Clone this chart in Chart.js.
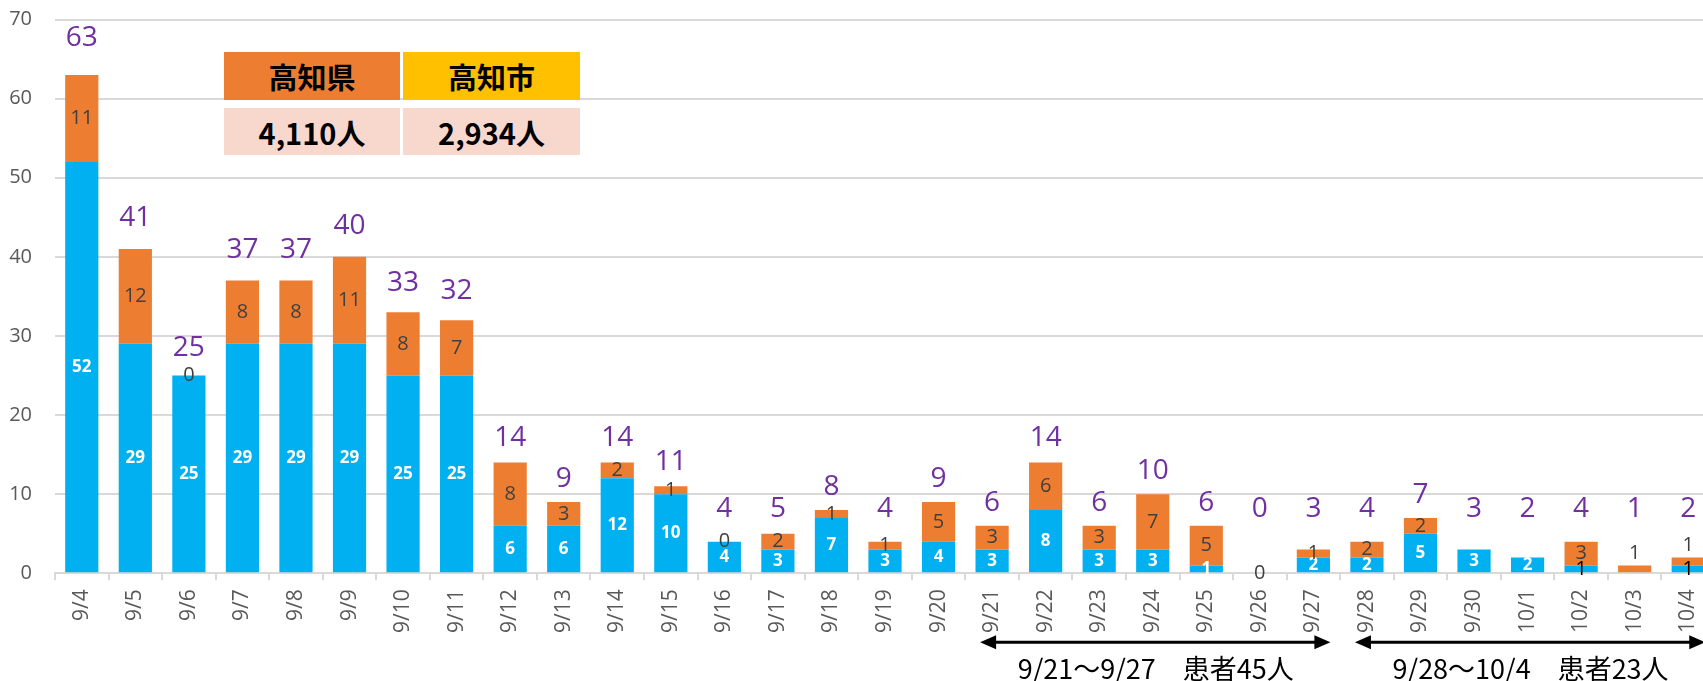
<!DOCTYPE html>
<html lang="ja">
<head>
<meta charset="UTF-8">
<title>高知県 新規陽性者数</title>
<script src="https://cdn.jsdelivr.net/npm/chart.js"></script>
<style>
  html, body { margin: 0; padding: 0; background: #fff; overflow: hidden; }
  #wrap { position: relative; width: 1730px; height: 681px; }
  .cell {
    position: absolute; display: flex; align-items: center; justify-content: center;
    font-family: "Noto Sans CJK JP"; font-weight: bold; font-size: 29px; color: #000;
  }
</style>
</head>
<body>
<div id="wrap">
  <canvas id="chart" width="1730" height="681"></canvas>
  <div class="cell" id="h0" style="left:224px;top:52px;width:176px;height:48px;background:#ed7d31"></div>
  <div class="cell" id="h1" style="left:403px;top:52px;width:177px;height:48px;background:#ffc000"></div>
  <div class="cell" id="v0" style="left:224px;top:108px;width:176px;height:47px;background:#f8d7cd"></div>
  <div class="cell" id="v1" style="left:403px;top:108px;width:177px;height:47px;background:#f8d7cd"></div>
</div>
<script>
// 日付
const dates = ['9/4','9/5','9/6','9/7','9/8','9/9','9/10','9/11','9/12','9/13','9/14','9/15','9/16','9/17',
  '9/18','9/19','9/20','9/21','9/22','9/23','9/24','9/25','9/26','9/27','9/28','9/29','9/30','10/1','10/2','10/3','10/4'];
// 高知市 (青)
const cityCases = [52,29,25,29,29,29,25,25,6,6,12,10,4,3,7,3,4,3,8,3,3,1,null,2,2,5,3,2,1,null,1];
// 高知市以外 (オレンジ)
const otherCases = [11,12,0,8,8,11,8,7,8,3,2,1,0,2,1,1,5,3,6,3,7,5,0,1,2,2,null,null,3,1,1];
// 合計
const totals = [63,41,25,37,37,40,33,32,14,9,14,11,4,5,8,4,9,6,14,6,10,6,0,3,4,7,3,2,4,1,2];

// 累計の表
const summaryHeaders = ['高知県','高知市'];
const summaryValues = ['4,110人','2,934人'];

// 週ごとの矢印
const weekStart = ['9/21','9/28'];
const weekEnd = ['9/27','10/4'];
const weekText = ['9/21〜9/27　患者45人','9/28〜10/4　患者23人'];

summaryHeaders.forEach((h, i) => document.getElementById('h' + i).textContent = h);
summaryValues.forEach((v, i) => document.getElementById('v' + i).textContent = v);

const darkCityLabels = ['10/2','10/4'];
const raisedOtherLabels = ['10/3','10/4'];

const labelPlugin = {
  id: 'barLabels',
  afterDatasetsDraw(chart) {
    const ctx = chart.ctx;
    const y = chart.scales.y;
    const metaCity = chart.getDatasetMeta(0);
    const metaOther = chart.getDatasetMeta(1);
    ctx.save();
    ctx.textAlign = 'center';
    ctx.textBaseline = 'middle';
    dates.forEach((d, i) => {
      const c = cityCases[i];
      if (c !== null) {
        const bar = metaCity.data[i];
        if (darkCityLabels.includes(d)) {
          ctx.font = '20px "Open Sans"';
          ctx.fillStyle = '#000';
        } else {
          ctx.font = 'bold 17px "Open Sans"';
          ctx.fillStyle = '#fff';
        }
        ctx.fillText(String(c), bar.x, (bar.y + bar.base) / 2);
      }
      const o = otherCases[i];
      if (o !== null) {
        const bar = metaOther.data[i];
        let oy = (bar.y + bar.base) / 2;
        if (raisedOtherLabels.includes(d)) oy = bar.y - 12;
        ctx.font = '20px "Open Sans"';
        ctx.fillStyle = '#404040';
        ctx.fillText(String(o), bar.x, oy);
      }
      const t = totals[i];
      const ty = Math.min(y.getPixelForValue(t * 1.032), y.getPixelForValue(5.5)) - 21;
      ctx.font = '28px "Open Sans"';
      ctx.fillStyle = '#7030a0';
      ctx.fillText(String(t), metaCity.data[i].x, ty);
    });
    ctx.restore();
  }
};

const arrowPlugin = {
  id: 'weekArrows',
  afterDraw(chart) {
    const ctx = chart.ctx;
    const x = chart.scales.x;
    const bottom = chart.chartArea.bottom;
    const ay = bottom + 69;
    ctx.save();
    weekText.forEach((txt, k) => {
      const a = x.getPixelForValue(dates.indexOf(weekStart[k]));
      const b = x.getPixelForValue(dates.indexOf(weekEnd[k]));
      const left = a - 12, right = b + 17;
      ctx.strokeStyle = '#000';
      ctx.fillStyle = '#000';
      ctx.lineWidth = 3;
      ctx.beginPath();
      ctx.moveTo(left + 10, ay);
      ctx.lineTo(right - 10, ay);
      ctx.stroke();
      ctx.beginPath();
      ctx.moveTo(left, ay);
      ctx.lineTo(left + 16, ay - 7);
      ctx.lineTo(left + 16, ay + 7);
      ctx.closePath();
      ctx.fill();
      ctx.beginPath();
      ctx.moveTo(right, ay);
      ctx.lineTo(right - 16, ay - 7);
      ctx.lineTo(right - 16, ay + 7);
      ctx.closePath();
      ctx.fill();
      ctx.font = '27px "Noto Sans CJK JP"';
      ctx.textAlign = 'center';
      ctx.textBaseline = 'middle';
      ctx.fillText(txt, (a + b) / 2 + 3, bottom + 95);
    });
    ctx.restore();
  }
};

new Chart(document.getElementById('chart').getContext('2d'), {
  type: 'bar',
  data: {
    labels: dates,
    datasets: [
      { label: '高知市', data: cityCases, backgroundColor: '#00b0f0', barPercentage: 0.62, categoryPercentage: 1 },
      { label: '高知市以外', data: otherCases, backgroundColor: '#ed7d31', barPercentage: 0.62, categoryPercentage: 1 }
    ]
  },
  options: {
    responsive: false,
    animation: false,
    layout: { padding: { top: 19.5, right: 15, bottom: 0, left: 0 } },
    plugins: { legend: { display: false }, tooltip: { enabled: false } },
    scales: {
      x: {
        stacked: true,
        afterFit(scale) { scale.height = 107.7; },
        grid: { drawOnChartArea: false, drawTicks: true, tickLength: 7, color: '#d9d9d9', lineWidth: 2, offset: true },
        border: { display: true, color: '#d9d9d9', width: 2 },
        ticks: { minRotation: 90, maxRotation: 90, padding: 9, autoSkip: false, color: '#595959', font: { family: 'Open Sans', size: 21 } }
      },
      y: {
        stacked: true,
        min: 0,
        max: 70,
        afterFit(scale) { scale.width = 55; },
        grid: { color: '#d9d9d9', lineWidth: 2, drawTicks: true, tickLength: 23, tickColor: 'rgba(0,0,0,0)' },
        border: { display: false },
        ticks: { stepSize: 10, padding: 0, color: '#595959', font: { family: 'Open Sans', size: 20 } }
      }
    }
  },
  plugins: [labelPlugin, arrowPlugin]
});
</script>
</body>
</html>
